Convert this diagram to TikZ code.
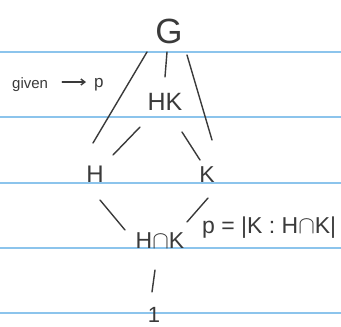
\documentclass[tikz,border=0pt]{standalone}
\usepackage{fontspec}
\setmainfont{Liberation Sans}
\usetikzlibrary{arrows.meta}
\definecolor{ink}{HTML}{3A3A3A}
\definecolor{ruleblue}{HTML}{8CC4EC}
\begin{document}
\begin{tikzpicture}[x=1pt,y=-1pt,
  lbl/.style={inner sep=0pt, text=ink},
  edge/.style={draw=ink, line width=1.4pt, line cap=round},
  ruleline/.style={draw=ruleblue, line width=1.5pt}]
\useasboundingbox (0,0) rectangle (341,327);
\fill[white] (0,0) rectangle (341,327);
\foreach \yy in {52,117,183,248,313} \draw[ruleline] (0,\yy) -- (341,\yy);

\node[lbl, font=\fontsize{35}{35}\selectfont] (G) at (169,31) {G};
\node[lbl, font=\fontsize{25}{25}\selectfont] (HK) at (165,102) {HK};
\node[lbl, font=\fontsize{24}{24}\selectfont] (H) at (95,174) {H};
\node[lbl, font=\fontsize{23}{23}\selectfont] (K) at (207,175) {K};
\node[lbl, font=\fontsize{23}{23}\selectfont] (HnK) at (160,241) {H$\cap$K};
\node[lbl, font=\fontsize{22}{22}\selectfont] (one) at (154,315) {1};
\node[lbl, anchor=base west, font=\fontsize{23}{23}\selectfont] (eq) at (202,233) {p = |K : H$\cap$K|};
\node[lbl, anchor=base west, font=\fontsize{15}{15}\selectfont] (given) at (12,88) {given};
\node[lbl, anchor=base west, font=\fontsize{17}{17}\selectfont] (p) at (94,87) {p};

\draw[edge, -{Straight Barb[length=4pt,width=6pt]}] ([xshift=14pt,yshift=6pt]given.base east) -- ([xshift=-8pt,yshift=5pt]p.base west);

\draw[edge] ([shift={(-22,21)}]G.center) -- ([shift={(-2,-31)}]H.center);
\draw[edge] ([shift={(-2,21)}]G.center) -- ([shift={(0,-25)}]HK.center);
\draw[edge] ([shift={(18,24)}]G.center) -- ([shift={(5,-35)}]K.center);
\draw[edge] ([shift={(-25,25)}]HK.center) -- ([shift={(18,-19)}]H.center);
\draw[edge] ([shift={(17,30)}]HK.center) -- ([shift={(-7,-15)}]K.center);
\draw[edge] ([shift={(5,26)}]H.center) -- ([shift={(-35,-11)}]HnK.center);
\draw[edge] ([shift={(1,23)}]K.center) -- ([shift={(27,-19)}]HnK.center);
\draw[edge] ([shift={(-5,29)}]HnK.center) -- ([shift={(-2,-23)}]one.center);
\end{tikzpicture}
\end{document}
